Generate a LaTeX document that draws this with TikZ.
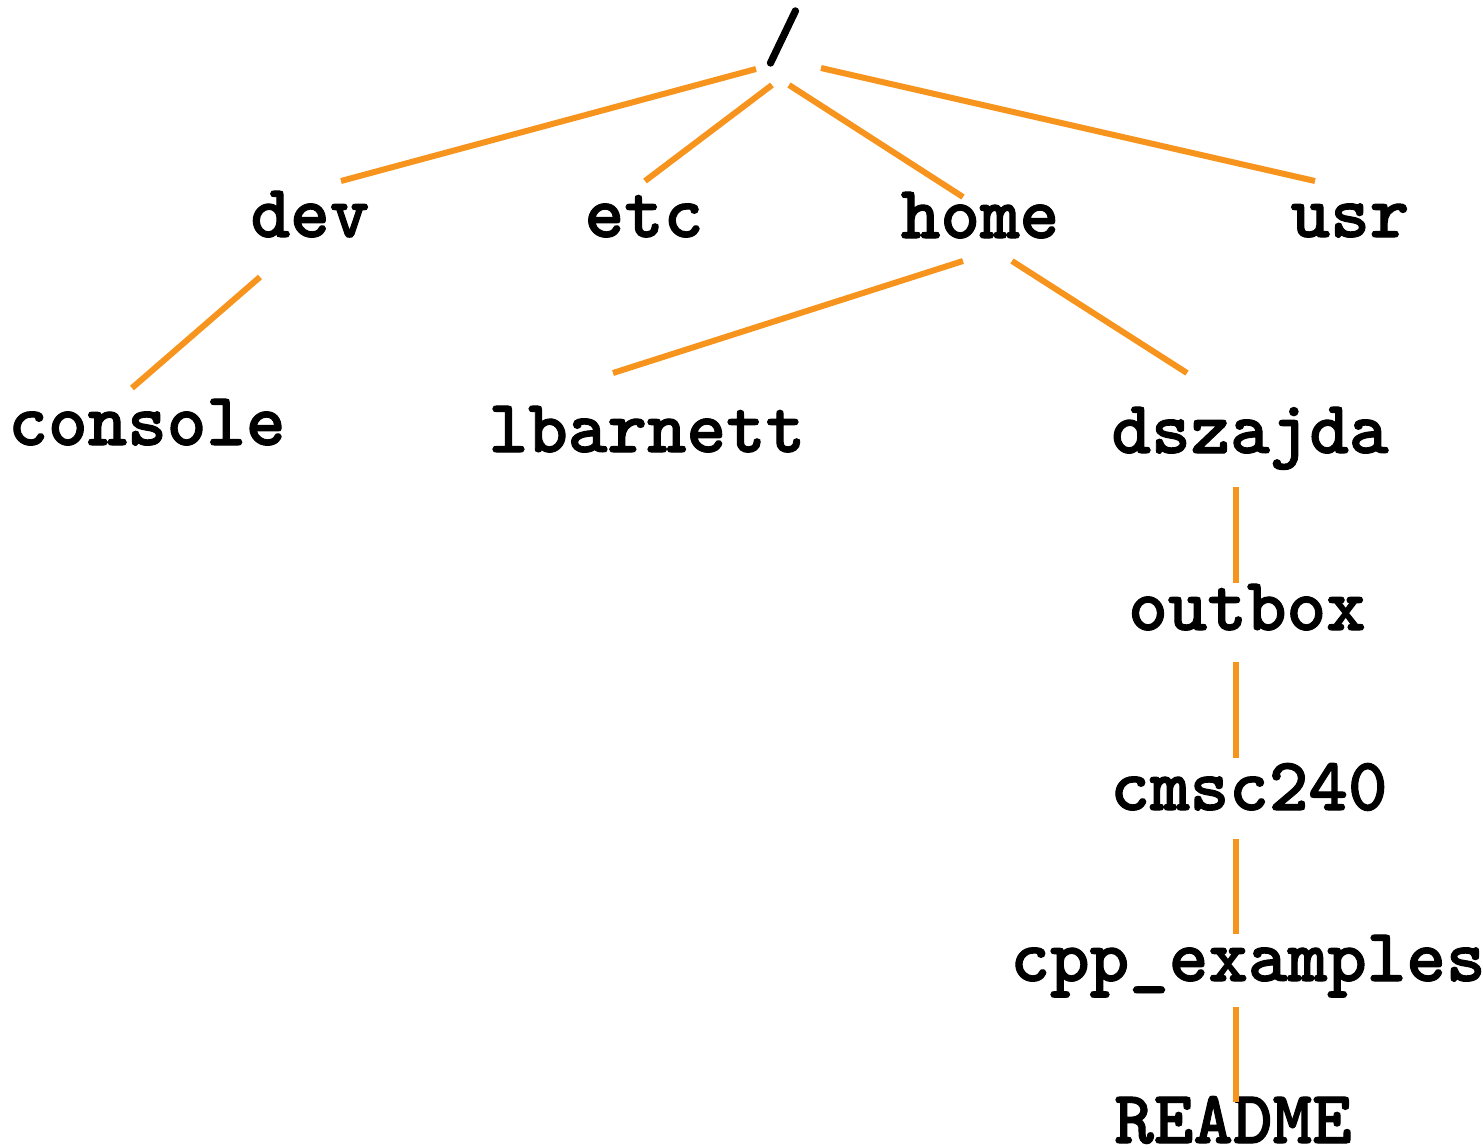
\documentclass[tikz,border=0pt]{standalone}
\usepackage{fontspec}
\newfontfamily\dirfont{lmmonolt10-bold.otf}[FakeBold=1.3]
\definecolor{linkorange}{RGB}{247,148,29}

\begin{document}
\begin{tikzpicture}[x=0.5pt,y=-0.5pt]
   \tikzset{dir/.style={font={\fontsize{37.7}{44}\selectfont\dirfont},inner sep=0pt,anchor=base}}
   \tikzset{link/.style={draw=linkorange,line width=3pt}}
   \useasboundingbox (0,0) rectangle (1483,1147);
   % directories
   \node[dir] (root) at (783,60) {/};
   \node[dir] (dev) at (310,237) {dev};
   \node[dir] (etc) at (644,237) {etc};
   \node[dir] (home) at (980,238) {home};
   \node[dir] (usr) at (1350,237) {usr};
   \node[dir] (console) at (147,445) {console};
   \node[dir] (lbarnett) at (647,452) {lbarnett};
   \node[dir] (dszajda) at (1250,453) {dszajda};
   \node[dir] (outbox) at (1247,630) {outbox};
   \node[dir] (cmsc) at (1249,810) {cmsc240};
   \node[dir] (cpp) at (1248,981) {cpp\_examples};
   \node[dir] (readme) at (1233,1143) {README};
   % links
   \draw[link] ([shift={(-27,9)}]root.base) -- ([shift={(31,-56)}]dev.base);
   \draw[link] ([shift={(-11,25)}]root.base) -- ([shift={(1,-56)}]etc.base);
   \draw[link] ([shift={(6,25)}]root.base) -- ([shift={(-17,-41)}]home.base);
   \draw[link] ([shift={(38,8)}]root.base) -- ([shift={(-35,-56)}]usr.base);
   \draw[link] ([shift={(-50,40)}]dev.base) -- ([shift={(-15,-57)}]console.base);
   \draw[link] ([shift={(-17,23)}]home.base) -- ([shift={(-34,-79)}]lbarnett.base);
   \draw[link] ([shift={(32,23)}]home.base) -- ([shift={(-63,-80)}]dszajda.base);
   \draw[link] ([shift={(-14,34)}]dszajda.base) -- ([shift={(-11,-47)}]outbox.base);
   \draw[link] ([shift={(-11,32)}]outbox.base) -- ([shift={(-13,-52)}]cmsc.base);
   \draw[link] ([shift={(-13,29)}]cmsc.base) -- ([shift={(-12,-47)}]cpp.base);
   \draw[link] ([shift={(-12,26)}]cpp.base) -- ([shift={(3,-41)}]readme.base);
\end{tikzpicture}
\end{document}
